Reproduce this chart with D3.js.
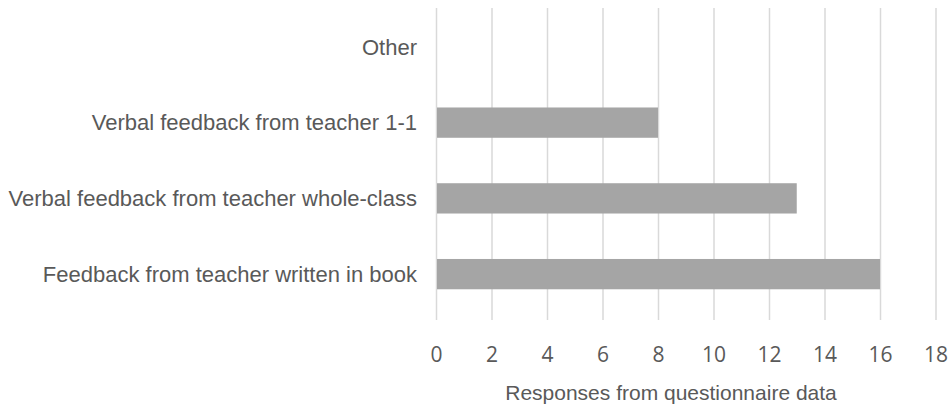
<!DOCTYPE html>
<html>
<head>
<meta charset="utf-8">
<script src="https://cdn.jsdelivr.net/npm/d3@7"></script>
<style>
  html, body { margin: 0; padding: 0; background: #fff; }
  svg { display: block; }
</style>
</head>
<body>
<div id="chart"></div>
<script>
// Categories, listed top to bottom as shown
const categories = [
  "Other",
  "Verbal feedback from teacher 1-1",
  "Verbal feedback from teacher whole-class",
  "Feedback from teacher written in book"
];
const responses = [0, 8, 13, 16];
const xTicks = [0, 2, 4, 6, 8, 10, 12, 14, 16, 18];
const xTitle = "Responses from questionnaire data";

const W = 952, H = 408;
const plot = { left: 436, right: 935.5, top: 8, bottom: 320 };

const svg = d3.select("#chart").append("svg")
  .attr("width", W).attr("height", H);

const x = d3.scaleLinear().domain([0, 18]).range([plot.left, plot.right]);
const y = d3.scaleBand().domain(categories).range([9, 312])
  .paddingInner(0.6).paddingOuter(0.3);

// Vertical gridlines and tick labels
const xAxis = d3.axisBottom(x)
  .tickValues(xTicks)
  .tickSizeInner(-(plot.bottom - plot.top))
  .tickSizeOuter(0)
  .tickPadding(27)
  .tickFormat(d3.format("d"));

const gx = svg.append("g")
  .attr("transform", `translate(0,${plot.bottom})`)
  .call(xAxis);
gx.select(".domain").remove();
gx.selectAll(".tick line")
  .attr("stroke", "#d9d9d9")
  .attr("stroke-width", 1.5);
gx.selectAll(".tick text")
  .attr("fill", "#595959")
  .style("font-family", "'Open Sans', sans-serif")
  .style("font-size", "21px");

// Bars
svg.append("g").selectAll("rect")
  .data(categories.map((c, i) => ({ c, v: responses[i] })))
  .join("rect")
  .attr("x", x(0) + 1)
  .attr("y", d => y(d.c))
  .attr("width", d => Math.max(0, x(d.v) - x(0) - 1))
  .attr("height", y.bandwidth())
  .attr("fill", "#a5a5a5");

// Category labels
svg.append("g").selectAll("text")
  .data(categories)
  .join("text")
  .attr("x", 417)
  .attr("y", d => y(d) + y.bandwidth() / 2)
  .attr("dy", "0.35em")
  .attr("text-anchor", "end")
  .attr("fill", "#595959")
  .style("font-family", "'Liberation Sans', Arial, sans-serif")
  .style("font-size", "22px")
  .text(d => d);

// Axis title
svg.append("text")
  .attr("x", 671)
  .attr("y", 400)
  .attr("text-anchor", "middle")
  .attr("fill", "#595959")
  .style("font-family", "'Liberation Sans', Arial, sans-serif")
  .style("font-size", "21px")
  .text(xTitle);
</script>
</body>
</html>
